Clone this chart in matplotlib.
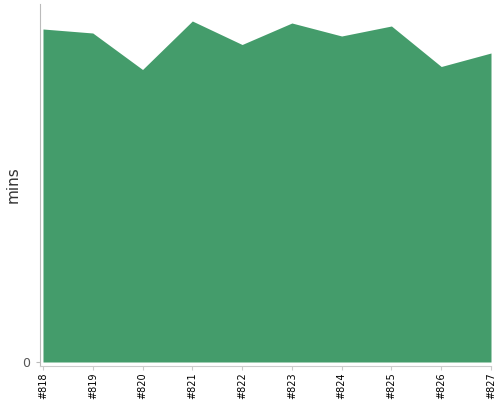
import matplotlib
matplotlib.use("Agg")
import matplotlib.pyplot as plt
import numpy as np

builds = ["#818", "#819", "#820", "#821", "#822", "#823", "#824", "#825", "#826", "#827"]
mins = [33.3, 32.9, 29.25, 34.1, 31.75, 33.9, 32.6, 33.6, 29.55, 30.9]

GREEN = "#449C6B"

fig = plt.figure(figsize=(5, 4), dpi=100)
ax = fig.add_axes([0.08, 0.085, 0.902, 0.905])
x = np.arange(len(builds))
ax.fill_between(x, 0, mins, color=GREEN, lw=0)

ax.set_xlim(-0.06, len(builds) - 1)
ax.set_ylim(-0.4, 35.8)
ax.set_xticks(x)
ax.set_xticklabels(builds, rotation=90, fontsize=7, color="black")
ax.set_yticks([0])
ax.set_yticklabels(["0"], fontsize=9, color="#555555")
ax.set_ylabel("mins", fontsize=11, color="#333333")
ax.yaxis.set_label_coords(-0.044, 0.5)

for s in ("top", "right"):
    ax.spines[s].set_visible(False)
ax.spines["left"].set_color("#BBBBBB")
ax.spines["bottom"].set_color("#CCCCCC")
ax.tick_params(axis="x", length=3, color="#CCCCCC", pad=1.5)
ax.tick_params(axis="y", length=3, color="#BBBBBB", pad=4)

fig.savefig("out.png", dpi=100)
